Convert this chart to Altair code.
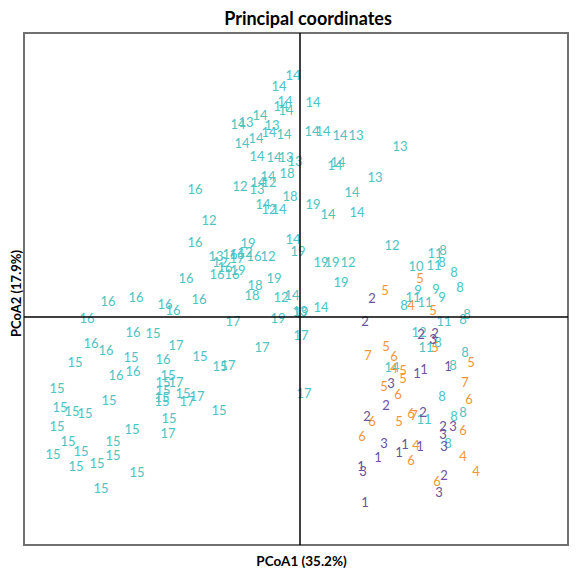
import altair as alt
import pandas as pd

# Sample labels and their principal-coordinate scores (x1000)
teal_labels = ["14","14","14","14","14","14","14","14","13","13","14","14","14","14","14","13",
               "14","14","13","14","14","13","13","14","14","13","18","14","14","12","12","13",
               "16","18","14","19","14","12","14","14","14","12","14","16","19","12","19","13",
               "16","16","12","16","12","17","12","16","19","16","16","19","19","12","19","16",
               "19","18","18","12","14","16","16","16","16","16","14","13","19","17","19","16",
               "17","17","16","15","16","16","17","15","15","16","15","15","17","16","16","15",
               "15","17","15","15","15","15","15","17","17","15","15","15","15","15","15","17",
               "15","15","17","15","15","15","15","15","15","15","15","15",
               "11","8","10","11","8","8","9","9","9","8","11","8","11","11","8","8",
               "12","8","11","8","14","8","8","11","8","8","8"]
teal_x = [-7,-21,-19,-15,-14,13,-40,-62,-54,-28,-31,-16,12,23,40,56,
          -58,-44,100,-43,-26,-14,-5,38,35,75,-13,-32,-42,-31,-60,-43,
          -105,-10,52,13,-37,-31,-21,28,57,-91,-7,-105,-52,92,-2,-84,
          -70,-63,-55,-46,-32,-63,-80,-75,-62,-83,-68,21,32,48,-26,-114,
          41,-45,-48,-19,-8,-164,-192,-135,-127,-101,21,0,1,-67,-22,-213,
          1,-38,-167,-147,-209,-194,-124,-225,-169,-137,-100,-80,-72,-184,-167,-132,
          -137,-124,-243,-137,-138,-138,-117,-113,-103,-191,-240,-228,-215,-81,-131,4,
          -243,-168,-132,-232,-187,-247,-219,-187,-224,-203,-163,-199,
          135,143,116,134,142,154,118,136,142,160,113,104,125,144,167,163,
          119,138,126,165,92,153,142,124,154,163,148]
teal_y = [241,230,210,215,206,214,201,192,194,191,184,182,185,185,181,181,
          173,178,170,160,159,159,155,154,151,139,143,140,134,134,130,127,
          127,120,124,112,112,107,107,102,104,96,77,74,73,71,65,60,
          62,62,64,60,60,58,54,49,46,42,42,54,54,54,38,38,
          34,31,21,19,21,19,15,12,6,17,9,5,4,-5,-2,-2,
          -19,-31,-16,-17,-27,-34,-29,-46,-41,-43,-40,-50,-49,-59,-55,-59,
          -66,-66,-72,-74,-81,-85,-77,-85,-80,-84,-91,-95,-97,-94,-102,-77,
          -110,-113,-117,-125,-125,-138,-135,-139,-150,-147,-156,-172,
          63,66,50,51,54,44,26,27,19,29,19,11,14,-5,2,-3,
          -16,-26,-31,-36,-51,-49,-80,-103,-100,-96,-127]

orange_labels = ["5","5","4","5","5","5","7","6","5","4","5","5","7","5","6","6",
                 "6","7","6","5","6","6","4","4","6","4","6"]
orange_x = [120,85,111,133,86,135,68,94,171,94,103,103,165,84,98,169,
            111,114,72,99,163,62,116,163,111,176,137]
orange_y = [38,26,11,6,-30,-31,-39,-40,-46,-52,-54,-62,-66,-70,-78,-83,
            -97,-99,-105,-105,-114,-120,-129,-140,-144,-155,-165]

purple_labels = ["2","2","2","2","3","1","1","1","3","2","2","2","2","3","3","3",
                 "3","1","1","1","1","1","3","2","3","1"]
purple_x = [72,65,121,135,133,117,124,148,91,86,67,123,143,153,143,84,
            144,105,99,120,78,61,63,144,139,65]
purple_y = [18,-5,-18,-17,-23,-57,-53,-50,-67,-89,-100,-96,-110,-110,-118,-127,
            -130,-128,-136,-130,-141,-150,-155,-159,-176,-186]

group_names = ["teal", "orange", "purple"]
group_colors = ["#4DC3C3", "#F0963A", "#6952A0"]

rows = []
for g, labs, xs, ys in [("teal", teal_labels, teal_x, teal_y),
                        ("orange", orange_labels, orange_x, orange_y),
                        ("purple", purple_labels, purple_x, purple_y)]:
    for l, x, y in zip(labs, xs, ys):
        rows.append({"label": l, "x": x, "y": y, "group": g})
df = pd.DataFrame(rows)

xscale = alt.Scale(domain=[-276, 268], nice=False, zero=False)
yscale = alt.Scale(domain=[-228, 284], nice=False, zero=False)

x_axis = alt.Axis(title="PCoA1 (35.2%)", labels=False, ticks=False, domain=False, grid=False,
                  titleFont="Lato", titleFontSize=13.5, titleFontWeight="bold",
                  titlePadding=9, titleColor="black", titleX=277, titleAlign="center")
y_axis = alt.Axis(title="PCoA2 (17.9%)", labels=False, ticks=False, domain=False, grid=False,
                  titleFont="Lato", titleFontSize=13, titleFontWeight="bold",
                  titlePadding=1, titleColor="black", titleY=260, titleAlign="center")

texts = alt.Chart(df).mark_text(font="Lato", fontSize=13, align="center", baseline="middle").encode(
    x=alt.X("x:Q", scale=xscale, axis=x_axis),
    y=alt.Y("y:Q", scale=yscale, axis=y_axis),
    text="label:N",
    color=alt.Color("group:N", scale=alt.Scale(domain=group_names, range=group_colors), legend=None),
)

vline = alt.Chart(pd.DataFrame({"x": [0]})).mark_rule(color="black", strokeWidth=1.5).encode(
    x=alt.X("x:Q", scale=xscale, axis=x_axis))
hline = alt.Chart(pd.DataFrame({"y": [0]})).mark_rule(color="black", strokeWidth=1.5).encode(
    y=alt.Y("y:Q", scale=yscale, axis=y_axis))

chart = alt.layer(texts, vline, hline).properties(
    width=544, height=512,
    title=alt.TitleParams("Principal coordinates", font="Lato", fontSize=18, fontWeight="bold",
                          anchor="middle", offset=3, dx=12, color="black"),
    autosize="none",
    padding={"left": 16, "top": 25, "right": 1, "bottom": 23},
).configure_view(stroke="#707070", strokeWidth=2)

chart.save("out.html", embed_options={"renderer": "svg", "actions": False})
